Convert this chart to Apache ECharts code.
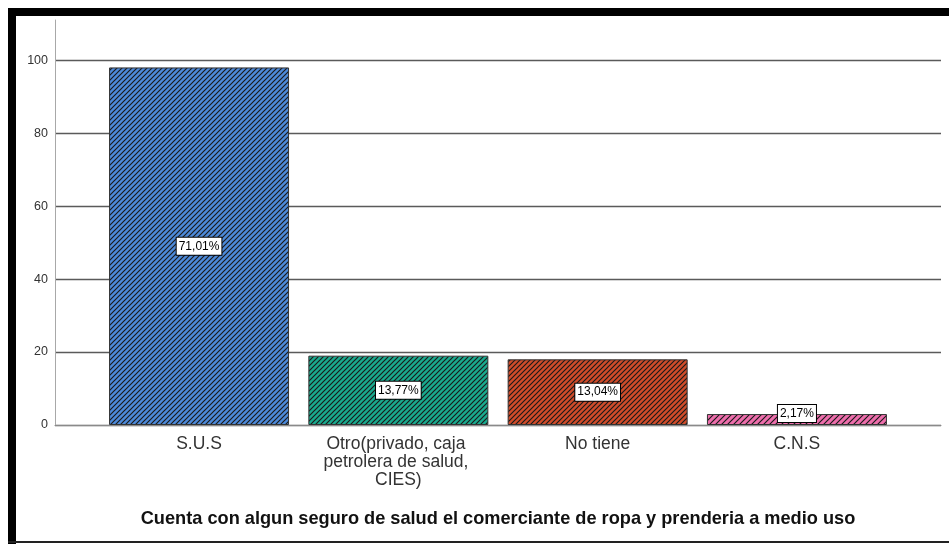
<!DOCTYPE html>
<html>
<head>
<meta charset="utf-8">
<title>Seguro de salud</title>
<script src="https://cdn.jsdelivr.net/npm/echarts@6/dist/echarts.min.js"></script>
<style>
  html, body { margin: 0; padding: 0; background: #fff; }
  #chart { width: 949px; height: 544px; }
</style>
</head>
<body>
<div id="chart"></div>
<script>
// datos (recuento)
var categorias = ['S.U.S', 'Otro(privado, caja petrolera de salud, CIES)', 'No tiene', 'C.N.S'];
var recuento = [98, 19, 18, 3];
var coloresBarra = ['#4d8ada', '#19aa8e', '#d04c2a', '#ee6eac'];
var pasoRayas = [5, 5, 5, 6];
var ticksY = [0, 20, 40, 60, 80, 100];

var fuente = '"Liberation Sans", Arial, sans-serif';
var total = recuento.reduce(function (a, b) { return a + b; }, 0);

// relleno rayado tipo SPSS
function rayado(fondo, paso) {
    var c = document.createElement('canvas');
    c.width = paso;
    c.height = paso;
    var ctx = c.getContext('2d');
    ctx.fillStyle = fondo;
    ctx.fillRect(0, 0, paso, paso);
    ctx.strokeStyle = '#1a1a1a';
    ctx.lineWidth = 1.15;
    ctx.beginPath();
    ctx.moveTo(-1, paso + 1);
    ctx.lineTo(paso + 1, -1);
    ctx.moveTo(-1, 1);
    ctx.lineTo(1, -1);
    ctx.moveTo(paso - 1, paso + 1);
    ctx.lineTo(paso + 1, paso - 1);
    ctx.stroke();
    return c;
}

var datos = recuento.map(function (v, i) {
    var d = {
        value: v,
        itemStyle: {
            color: { image: rayado(coloresBarra[i], pasoRayas[i]), repeat: 'repeat' }
        }
    };
    // barra muy baja: la etiqueta sube un poco, como en SPSS
    if (v < 5) d.label = { offset: [0, -6] };
    return d;
});

var myChart = echarts.init(document.getElementById('chart'));

var option = {
    animation: false,
    backgroundColor: '#fff',
    grid: [
        { left: 55, right: 8, top: 20, bottom: 119 },
        { left: 99.4, right: 52.4, top: 20, bottom: 119 }
    ],
    xAxis: [
        {
            gridIndex: 0,
            type: 'category',
            data: categorias,
            axisLine: { lineStyle: { color: '#8a8a8a', width: 1 } },
            axisTick: { show: false },
            axisLabel: { show: false },
            name: 'Cuenta con algun seguro de salud el comerciante de ropa y prenderia a medio uso',
            nameLocation: 'middle',
            nameGap: 85,
            nameTextStyle: { fontFamily: fuente, fontSize: 18.2, fontWeight: 'bold', color: '#111' }
        },
        {
            gridIndex: 1,
            type: 'category',
            data: categorias,
            axisLine: { show: false },
            axisTick: { show: false },
            axisLabel: {
                margin: 10,
                fontFamily: fuente,
                fontSize: 17.5,
                color: '#333',
                lineHeight: 18,
                width: 168,
                overflow: 'break',
                interval: 0
            }
        }
    ],
    yAxis: [
        {
            gridIndex: 0,
            type: 'value',
            min: ticksY[0],
            max: 111,
            interval: 20,
            axisLine: { show: true, lineStyle: { color: '#a8a8a8' } },
            axisTick: { show: false },
            axisLabel: {
                margin: 7,
                fontFamily: fuente,
                fontSize: 12.5,
                color: '#333',
                showMaxLabel: false,
                formatter: function (v) { return ticksY.indexOf(v) >= 0 ? String(v) : ''; }
            },
            splitLine: {
                lineStyle: {
                    color: ticksY.map(function () { return '#5a5a5a'; }).concat(['rgba(0,0,0,0)']),
                    width: 1.3
                }
            }
        },
        {
            gridIndex: 1,
            type: 'value',
            min: 0,
            max: 111,
            show: false
        }
    ],
    series: [
        {
            type: 'bar',
            xAxisIndex: 1,
            yAxisIndex: 1,
            barWidth: 180,
            data: datos,
            itemStyle: { borderColor: '#333', borderWidth: 1 },
            label: {
                show: true,
                position: 'inside',
                fontFamily: fuente,
                fontSize: 12,
                color: '#000',
                backgroundColor: '#fff',
                borderColor: '#000',
                borderWidth: 1,
                padding: [3, 2, 2, 2],
                formatter: function (p) {
                    return (p.value / total * 100).toFixed(2).replace('.', ',') + '%';
                }
            }
        }
    ],
    graphic: [
        { type: 'rect', shape: { x: 8, y: 8, width: 941, height: 8 }, style: { fill: '#000' } },
        { type: 'rect', shape: { x: 8, y: 8, width: 8, height: 536 }, style: { fill: '#000' } },
        { type: 'rect', shape: { x: 8, y: 541, width: 941, height: 2 }, style: { fill: '#222' } }
    ]
};

myChart.setOption(option);
myChart.resize();
</script>
</body>
</html>
